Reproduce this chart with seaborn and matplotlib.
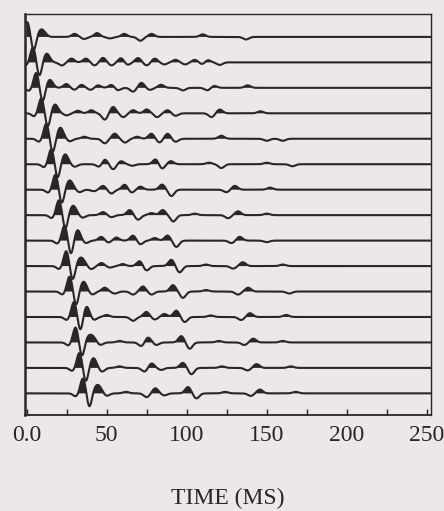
import numpy as np
import pandas as pd
import matplotlib
matplotlib.use('Agg')
import matplotlib.pyplot as plt
import seaborn as sns

# Seismic traces (times in ms, amplitudes in trace-spacing units)
first_break = [0.4, 4.0, 6.0, 9.2, 12.3, 15.4, 18.0, 20.2, 23.7, 24.8, 26.9, 29.6, 30.6, 33.0, 35.2]

# main pulse relative to first break: pre-dip, peak, trough, rebound
pulse_dt = [-4.5, 0.0, 4.0, 8.0]
pulse_amp = [-0.12, 0.60, -0.55, 0.22]
pulse_sig = [1.6, 1.6, 1.5, 1.8]

event_times = [
    [10.8, 30, 36, 44, 52, 61, 71, 78, 110, 137],
    [13.3, 22, 28, 37, 42.5, 47.7, 53, 59, 63, 69.6, 75, 80, 86, 93, 99, 105, 110, 113, 120.6],
    [15.4, 24.8, 30, 34.2, 40, 44.6, 53, 57, 66.5, 71.7, 77, 84, 97.6, 113, 117, 138],
    [18.5, 25, 32, 40.4, 48.8, 54, 60.4, 66.5, 75, 81.5, 88, 93, 115.5, 120.6, 146],
    [21.7, 27, 36, 48.8, 55, 61.5, 69, 77.9, 83, 88, 93, 121.6, 150, 160],
    [24.8, 30, 45.6, 48.8, 54, 59, 66, 80.6, 84.5, 90, 114, 121.6, 150, 166],
    [27.9, 33, 42, 47.7, 52.9, 61.3, 65.5, 71, 84.6, 90.4, 124.8, 130, 152],
    [30, 35, 47.7, 53, 64.4, 69.6, 78, 85, 91.6, 105, 125.8, 132, 150],
    [32, 37, 46.7, 51, 56, 66.5, 71, 80, 88, 93.5, 128, 133, 150],
    [35.2, 40.4, 46.7, 52, 60, 70.6, 74.8, 90.4, 95.5, 112, 129, 135, 160],
    [36.3, 41, 48.8, 55, 66.5, 72.6, 78, 91.4, 97.6, 112, 132, 138.3, 164],
    [37.3, 42, 50, 66.5, 74.8, 80, 86, 93.5, 98.7, 115, 134, 139.4, 162],
    [41.5, 46, 58, 71.7, 75.8, 81, 96.6, 101.8, 120, 136, 141.5, 160],
    [42.5, 47, 58, 73.7, 78, 84, 97.6, 102.9, 122, 138, 143.6, 165],
    [45.6, 50, 62, 75, 80.4, 86, 100.8, 106, 124, 140, 145.6, 168],
]
event_amps = [
    [.15, .12, -.08, .15, -.06, .12, -.15, .12, .10, -.10],
    [.15, -.12, .15, .15, -.12, .18, -.12, .17, -.10, .17, -.12, .15, -.08, .10, -.08, .10, -.08, .10, -.10],
    [.12, .15, -.08, .12, -.08, .10, .12, -.10, -.15, .20, -.08, .12, -.10, -.10, .08, .10],
    [.15, -.08, .10, .12, -.25, .25, -.15, .12, .15, -.15, .12, -.10, -.15, .15, .08],
    [.25, -.10, .08, -.18, .20, -.15, .08, .20, -.15, .20, -.12, .12, -.08, -.08],
    [.20, -.10, -.12, .20, -.20, .12, -.06, .20, -.18, .12, .06, -.15, .06, -.08],
    [.20, -.10, -.06, .15, -.15, .20, -.12, .12, .20, -.25, -.10, .15, .08],
    [.20, -.10, .12, -.08, .20, -.18, .08, .20, -.25, .06, -.12, .15, .06],
    [.20, -.10, .15, -.08, .12, .20, -.15, .10, .20, -.25, -.10, .15, -.06],
    [.20, -.12, .12, -.06, .08, .20, -.18, .25, -.25, .06, -.10, .15, .06],
    [.20, -.12, .15, -.08, -.12, .20, -.12, .25, -.25, .06, -.12, .15, -.08],
    [.20, -.12, .08, -.15, .20, -.10, .12, .25, -.20, .06, -.12, .15, .08],
    [.20, -.10, .06, -.15, .20, -.10, .25, -.25, .06, -.10, .15, .06],
    [.20, -.15, .06, -.15, .18, -.08, .20, -.25, .06, -.10, .15, .06],
    [.20, -.10, .06, -.15, .20, -.08, .25, -.20, .06, -.10, .15, .06],
]
event_sigma = 1.8

time = np.arange(0, 253, 0.25)
ink = '#2b2428'
paper = '#ece7ea'

rows = []
n = len(first_break)
for i in range(n):
    base = n - i  # trace 1 at top
    amp = np.zeros_like(time)
    for dt, a, s in zip(pulse_dt, pulse_amp, pulse_sig):
        amp += a * np.exp(-0.5 * ((time - first_break[i] - dt) / s) ** 2)
    for t, a in zip(event_times[i], event_amps[i]):
        amp += a * np.exp(-0.5 * ((time - t) / event_sigma) ** 2)
    rows.append(pd.DataFrame({'t': time, 'y': base + amp, 'base': base, 'trace': i}))
df = pd.concat(rows, ignore_index=True)

sns.set_theme(style='ticks')
plt.rcParams['font.family'] = ['Liberation Serif', 'DejaVu Serif']

fig = plt.figure(figsize=(4.44, 5.11), dpi=100, facecolor=paper)
ax = fig.add_axes([25 / 444, 1 - 415 / 511, 406 / 444, 401 / 511])
ax.set_facecolor(paper)

sns.lineplot(data=df, x='t', y='y', units='trace', estimator=None,
             color=ink, lw=1.5, legend=False, ax=ax)
for i, g in df.groupby('trace'):
    ax.fill_between(g['t'], g['base'], g['y'], where=g['y'] > g['base'] + 0.05,
                    color=ink, lw=0, interpolate=True)

ax.set_xlim(-1, 252.5)
ax.set_ylim(0.15, 15.9)
ax.set_xticks([0, 50, 100, 150, 200, 250])
ax.set_xticklabels(['0.0', '50', '100', '150', '200', '250'])
ax.set_xticks(np.arange(25, 250, 50), minor=True)
ax.tick_params(axis='x', which='both', direction='in', length=4, width=1,
               colors=ink, labelsize=17, pad=7)
ax.set_yticks([])
ax.set_ylabel('')
ax.set_xlabel('TIME (MS)', fontsize=17, color=ink, labelpad=30)
for side, sp in ax.spines.items():
    sp.set_visible(True)
    sp.set_color(ink)
    sp.set_linewidth(1.0)
ax.spines['left'].set_linewidth(1.8)
ax.spines['bottom'].set_linewidth(1.3)

fig.savefig('out.png', dpi=100, facecolor=paper)
